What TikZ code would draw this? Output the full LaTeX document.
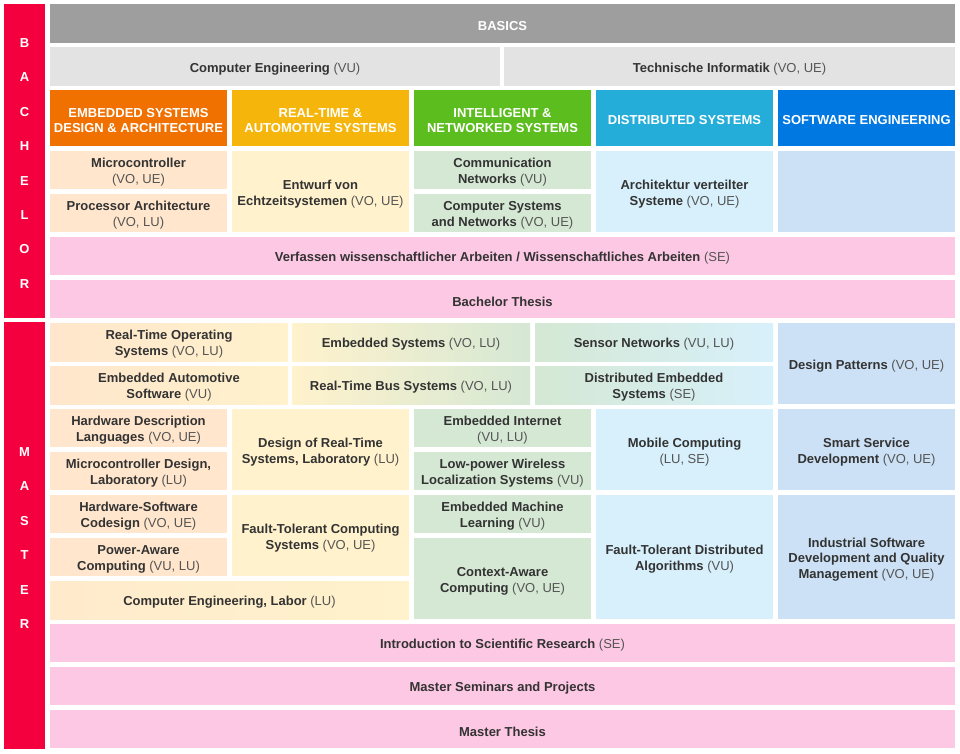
\documentclass[tikz,border=0pt]{standalone}
\usepackage{fontspec}
\setmainfont{Liberation Sans}
\usepackage{tikz}

\definecolor{txtd}{HTML}{333333}
\definecolor{txtl}{HTML}{555555}
\definecolor{barred}{HTML}{F5003F}
\definecolor{basgray}{HTML}{9E9E9E}
\definecolor{lgray}{HTML}{E3E3E3}
\definecolor{horange}{HTML}{F07000}
\definecolor{hyellow}{HTML}{F5B50A}
\definecolor{hgreen}{HTML}{5CBD1E}
\definecolor{hcyan}{HTML}{25ADDA}
\definecolor{hblue}{HTML}{0078E1}
\definecolor{lorange}{HTML}{FFE6CC}
\definecolor{lyellow}{HTML}{FFF2CC}
\definecolor{lgreen}{HTML}{D5E8D4}
\definecolor{lcyan}{HTML}{D7F0FB}
\definecolor{lblue}{HTML}{CCE1F5}
\definecolor{lpink}{HTML}{FDC8E4}

% lecture type in lighter print
\newcommand\lv[1]{{\mdseries\color{txtl}#1}}
% cell: name, x1, y1, x2, y2, fill, text style, text
\newcommand\cell[8]{%
	\node[cell,#6,minimum width={#4-#2},minimum height={#5-#3}] (#1) at ({(#2+#4)/2},{(#3+#5)/2}) {};
	\node[celltext,#7] at ([yshift=-2.5pt]#1.center) {#8};}

\tikzset{
	cell/.style={inner sep=0pt, outer sep=0pt},
	celltext/.style={inner sep=0pt, align=center, text=txtd,
		font=\fontsize{13}{15.8}\selectfont\bfseries},
	head/.style={text=white},
	side/.style={text=white, font=\fontsize{13}{34.4}\selectfont\bfseries}
}

\begin{document}
\begin{tikzpicture}[x=1pt, y=-1pt]
	\useasboundingbox (0,0) rectangle (960,753);
	% side bars
	\cell{bach}{4}{4}{45}{318}{fill=barred}{side}{B\\A\\C\\H\\E\\L\\O\\R}
	\cell{mast}{4}{322}{45}{749}{fill=barred}{side}{M\\A\\S\\T\\E\\R}

	% bachelor
	\cell{basics}{50}{4}{955}{43}{fill=basgray}{head}{BASICS}
	\cell{ce}{50}{47}{500}{86}{fill=lgray}{}{Computer Engineering \lv{(VU)}}
	\cell{ti}{504}{47}{955}{86}{fill=lgray}{}{Technische Informatik \lv{(VO, UE)}}
	\cell{esda}{50}{90}{227}{146}{fill=horange}{head}{EMBEDDED SYSTEMS\\DESIGN \& ARCHITECTURE}
	\cell{rtas}{232}{90}{409}{146}{fill=hyellow}{head}{REAL-TIME \&\\AUTOMOTIVE SYSTEMS}
	\cell{ins}{414}{90}{591}{146}{fill=hgreen}{head}{INTELLIGENT \&\\NETWORKED SYSTEMS}
	\cell{ds}{596}{90}{773}{146}{fill=hcyan}{head}{DISTRIBUTED SYSTEMS}
	\cell{se}{778}{90}{955}{146}{fill=hblue}{head}{SOFTWARE ENGINEERING}

	\cell{mc}{50}{151}{227}{189}{fill=lorange}{}{Microcontroller\\\lv{(VO, UE)}}
	\cell{pa}{50}{194}{227}{232}{fill=lorange}{}{Processor Architecture\\\lv{(VO, LU)}}
	\cell{ev}{232}{151}{409}{232}{fill=lyellow}{}{Entwurf von\\Echtzeitsystemen \lv{(VO, UE)}}
	\cell{cn}{414}{151}{591}{189}{fill=lgreen}{}{Communication\\Networks \lv{(VU)}}
	\cell{csn}{414}{194}{591}{232}{fill=lgreen}{}{Computer Systems\\and Networks \lv{(VO, UE)}}
	\cell{avs}{596}{151}{773}{232}{fill=lcyan}{}{Architektur verteilter\\Systeme \lv{(VO, UE)}}
	\cell{sebl}{778}{151}{955}{232}{fill=lblue}{}{}
	\cell{vwa}{50}{237}{955}{275}{fill=lpink}{}{Verfassen wissenschaftlicher Arbeiten / Wissenschaftliches Arbeiten \lv{(SE)}}
	\cell{bt}{50}{280}{955}{318}{fill=lpink}{}{Bachelor Thesis}

	% master
	\cell{rtos}{50}{323}{288}{361}{left color=lorange,right color=lyellow}{}{Real-Time Operating\\Systems \lv{(VO, LU)}}
	\cell{eas}{50}{366}{288}{404}{left color=lorange,right color=lyellow}{}{Embedded Automotive\\Software \lv{(VU)}}
	\cell{es}{292}{323}{530}{361}{left color=lyellow,right color=lgreen}{}{Embedded Systems \lv{(VO, LU)}}
	\cell{rtbs}{292}{366}{530}{404}{left color=lyellow,right color=lgreen}{}{Real-Time Bus Systems \lv{(VO, LU)}}
	\cell{sn}{535}{323}{773}{361}{left color=lgreen,right color=lcyan}{}{Sensor Networks \lv{(VU, LU)}}
	\cell{des}{535}{366}{773}{404}{left color=lgreen,right color=lcyan}{}{Distributed Embedded\\Systems \lv{(SE)}}
	\cell{dp}{778}{323}{955}{404}{fill=lblue}{}{Design Patterns \lv{(VO, UE)}}

	\cell{hdl}{50}{409}{227}{447}{fill=lorange}{}{Hardware Description\\Languages \lv{(VO, UE)}}
	\cell{mcd}{50}{452}{227}{490}{fill=lorange}{}{Microcontroller Design,\\Laboratory \lv{(LU)}}
	\cell{hsc}{50}{495}{227}{533}{fill=lorange}{}{Hardware-Software\\Codesign \lv{(VO, UE)}}
	\cell{pac}{50}{538}{227}{576}{fill=lorange}{}{Power-Aware\\Computing \lv{(VU, LU)}}
	\cell{drts}{232}{409}{409}{490}{fill=lyellow}{}{Design of Real-Time\\Systems, Laboratory \lv{(LU)}}
	\cell{ftcs}{232}{495}{409}{576}{fill=lyellow}{}{Fault-Tolerant Computing\\Systems \lv{(VO, UE)}}
	\cell{cel}{50}{581}{409}{619}{left color=lorange!60!lyellow,right color=lyellow}{}{Computer Engineering, Labor \lv{(LU)}}
	\cell{ei}{414}{409}{591}{447}{fill=lgreen}{}{Embedded Internet\\\lv{(VU, LU)}}
	\cell{lpw}{414}{452}{591}{490}{fill=lgreen}{}{Low-power Wireless\\Localization Systems \lv{(VU)}}
	\cell{eml}{414}{495}{591}{533}{fill=lgreen}{}{Embedded Machine\\Learning \lv{(VU)}}
	\cell{cac}{414}{538}{591}{619}{fill=lgreen}{}{Context-Aware\\Computing \lv{(VO, UE)}}
	\cell{mob}{596}{409}{773}{490}{fill=lcyan}{}{Mobile Computing\\\lv{(LU, SE)}}
	\cell{ftda}{596}{495}{773}{619}{fill=lcyan}{}{Fault-Tolerant Distributed\\Algorithms \lv{(VU)}}
	\cell{ssd}{778}{409}{955}{490}{fill=lblue}{}{Smart Service\\Development \lv{(VO, UE)}}
	\cell{isd}{778}{495}{955}{619}{fill=lblue}{}{Industrial Software\\Development and Quality\\Management \lv{(VO, UE)}}

	\cell{isr}{50}{624}{955}{662}{fill=lpink}{}{Introduction to Scientific Research \lv{(SE)}}
	\cell{msp}{50}{667}{955}{705}{fill=lpink}{}{Master Seminars and Projects}
	\cell{mt}{50}{710}{955}{748}{fill=lpink}{}{Master Thesis}
\end{tikzpicture}
\end{document}
